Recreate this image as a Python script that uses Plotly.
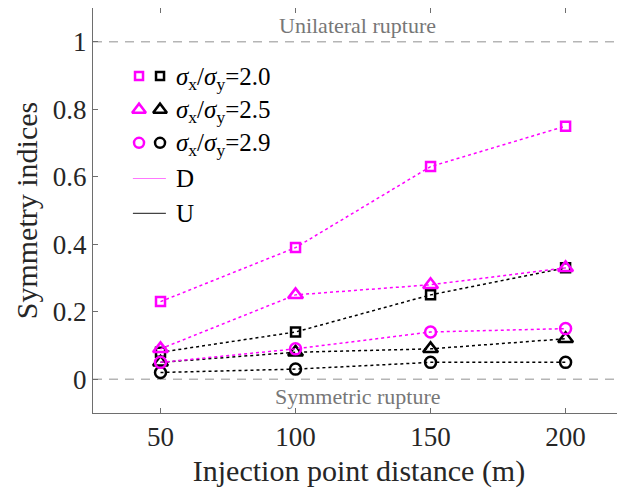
import plotly.graph_objects as go

distance = [50, 100, 150, 200]
ratios = ["2.0", "2.5", "2.9"]
D_20 = [0.23, 0.39, 0.63, 0.75]
D_25 = [0.09, 0.25, 0.28, 0.33]
D_29 = [0.05, 0.09, 0.14, 0.15]
U_20 = [0.08, 0.14, 0.25, 0.33]
U_25 = [0.05, 0.08, 0.09, 0.12]
U_29 = [0.02, 0.03, 0.05, 0.05]
x_ticks = [50, 100, 150, 200]
y_ticks = [0, 0.2, 0.4, 0.6, 0.8, 1]
y_tick_labels = ["0", "0.2", "0.4", "0.6", "0.8", "1"]

MAG = "#ff00ff"
BLK = "#000000"
FONT = "'Liberation Serif', 'Times New Roman', Times, serif"
symbols = ["square-open", "triangle-up-open", "circle-open"]
sizes = [9, 13, 11]

fig = go.Figure()

for series, sym, sz in zip([U_20, U_25, U_29], symbols, sizes):
    fig.add_trace(go.Scatter(x=distance, y=series, mode="lines+markers",
                             line=dict(color=BLK, width=1.5, dash="dot"),
                             marker=dict(symbol=sym, size=sz, color=BLK, line=dict(width=2.5, color=BLK)),
                             showlegend=False))
for series, sym, sz in zip([D_20, D_25, D_29], symbols, sizes):
    fig.add_trace(go.Scatter(x=distance, y=series, mode="lines+markers",
                             line=dict(color=MAG, width=1.5, dash="dot"),
                             marker=dict(symbol=sym, size=sz, color=MAG, line=dict(width=2.5, color=MAG)),
                             showlegend=False))

# manual legend on overlay axes (0..1 over the plot area)
leg_rows = [0.832, 0.749, 0.667]
for yy, sym, sz, r in zip(leg_rows, symbols, sizes, ratios):
    fig.add_trace(go.Scatter(x=[0.0865], y=[yy], mode="markers", xaxis="x2", yaxis="y2",
                             marker=dict(symbol=sym, size=sz - 1, color=MAG, line=dict(width=2.5, color=MAG)),
                             showlegend=False, hoverinfo="skip"))
    fig.add_trace(go.Scatter(x=[0.126], y=[yy], mode="markers", xaxis="x2", yaxis="y2",
                             marker=dict(symbol=sym, size=sz - 1, color=BLK, line=dict(width=2.5, color=BLK)),
                             showlegend=False, hoverinfo="skip"))
    fig.add_annotation(x=0.152, y=yy, xref="x2", yref="y2", xanchor="left", yanchor="middle",
                       text="<i>σ</i><sub>x</sub>/<i>σ</i><sub>y</sub>=" + r, showarrow=False,
                       font=dict(family=FONT, size=25, color="#000"), yshift=-2)
for yy, col, lab in [(0.579, "#ff77ff", "D"), (0.493, "#444444", "U")]:
    fig.add_trace(go.Scatter(x=[0.075, 0.137], y=[yy, yy], mode="lines", xaxis="x2", yaxis="y2",
                             line=dict(color=col, width=1.2), showlegend=False, hoverinfo="skip"))
    fig.add_annotation(x=0.152, y=yy, xref="x2", yref="y2", xanchor="left", yanchor="middle",
                       text=lab, showarrow=False, font=dict(family=FONT, size=25, color="#000"))

# reference lines
for yv in [0, 1]:
    fig.add_shape(type="line", xref="paper", x0=0, x1=1, yref="y", y0=yv, y1=yv,
                  line=dict(color="#b5b5b5", width=1.3, dash="9px,7px"), layer="below")
fig.add_annotation(x=123, y=1, xref="x", yref="y", text="Unilateral rupture", showarrow=False,
                   yanchor="bottom", yshift=2, font=dict(family=FONT, size=22, color="#777777"))
fig.add_annotation(x=123, y=0, xref="x", yref="y", text="Symmetric rupture", showarrow=False,
                   yanchor="top", yshift=-3, font=dict(family=FONT, size=22, color="#777777"))

axcol = "#6e6e6e"
fig.update_layout(
    width=617, height=486,
    margin=dict(l=85, r=0, t=0, b=81, pad=0),
    plot_bgcolor="white", paper_bgcolor="white",
    font=dict(family=FONT, color="#262626"),
    xaxis=dict(range=[25, 222], tickvals=x_ticks, ticks="inside", ticklen=5, tickcolor=axcol,
               showline=True, linecolor=axcol, linewidth=1, mirror="ticks", showgrid=False,
               zeroline=False, tickfont=dict(family=FONT, size=27, color="#262626"),
               title=dict(text="Injection point distance (m)", font=dict(family=FONT, size=30, color="#262626"),
                          standoff=8)),
    yaxis=dict(range=[-0.1, 1.1], tickvals=y_ticks, ticktext=y_tick_labels, ticks="inside", ticklen=5,
               tickcolor=axcol, showline=True, linecolor=axcol, linewidth=1, mirror=False, showgrid=False,
               zeroline=False, tickfont=dict(family=FONT, size=27, color="#262626"),
               title=dict(text="Symmetry indices", font=dict(family=FONT, size=30, color="#262626"),
                          standoff=6)),
    xaxis2=dict(range=[0, 1], overlaying="x", visible=False, showgrid=False, zeroline=False),
    yaxis2=dict(range=[0, 1], overlaying="y", visible=False, showgrid=False, zeroline=False),
)

fig.write_html("out.html")
